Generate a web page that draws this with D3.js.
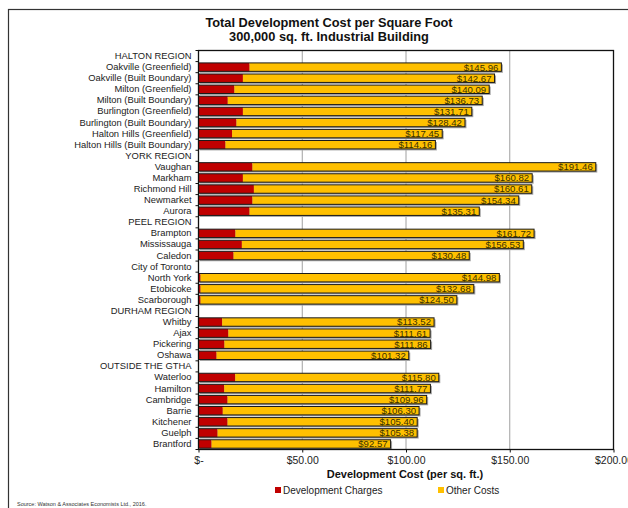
<!DOCTYPE html>
<html>
<head>
<meta charset="utf-8">
<script src="https://cdn.jsdelivr.net/npm/d3@7"></script>
<style>
  html, body { margin: 0; padding: 0; background: #fff; }
  svg { display: block; font-family: "Liberation Sans", Arial, sans-serif; }
</style>
</head>
<body>
<svg id="chart" width="628" height="508"></svg>
<script>
// Rows of the chart; region headers carry no values.
const categories = [
  "HALTON REGION",
  "Oakville (Greenfield)", "Oakville (Built Boundary)", "Milton (Greenfield)", "Milton (Built Boundary)",
  "Burlington (Greenfield)", "Burlington (Built Boundary)", "Halton Hills (Greenfield)", "Halton Hills (Built Boundary)",
  "YORK REGION",
  "Vaughan", "Markham", "Richmond Hill", "Newmarket", "Aurora",
  "PEEL REGION",
  "Brampton", "Mississauga", "Caledon",
  "City of Toronto",
  "North York", "Etobicoke", "Scarborough",
  "DURHAM REGION",
  "Whitby", "Ajax", "Pickering", "Oshawa",
  "OUTSIDE THE GTHA",
  "Waterloo", "Hamilton", "Cambridge", "Barrie", "Kitchener", "Guelph", "Brantford"
];

// Development charges per sq. ft. (estimated)
const devCharges = [
  null,
  24.6, 21.4, 17.3, 14.1, 21.4, 18.3, 16.2, 13.0,
  null,
  26.0, 21.4, 26.7, 26.0, 24.6,
  null,
  17.8, 20.9, 16.9,
  null,
  1.0, 1.0, 1.0,
  null,
  11.4, 14.4, 12.5, 8.7,
  null,
  17.7, 12.4, 14.0, 11.7, 14.0, 9.2, 6.3
];

// Total development cost per sq. ft. (labelled values)
const totals = [
  null,
  145.96, 142.67, 140.09, 136.73, 131.71, 128.42, 117.45, 114.16,
  null,
  191.46, 160.82, 160.61, 154.34, 135.31,
  null,
  161.72, 156.53, 130.48,
  null,
  144.98, 132.68, 124.50,
  null,
  113.52, 111.61, 111.86, 101.32,
  null,
  115.80, 111.77, 109.96, 106.30, 105.40, 105.38, 92.57
];

const xTicks = [0, 50, 100, 150, 200];
const seriesNames = ["Development Charges", "Other Costs"];
const seriesColors = ["#C00000", "#FFC000"];

const rows = categories.map((c, i) => ({
  name: c,
  dc: devCharges[i],
  total: totals[i],
  other: totals[i] == null ? null : totals[i] - devCharges[i]
}));

const svg = d3.select("#chart");
const margin = { left: 198.5, right: 613.5, top: 50.5, bottom: 449.5 };

// Outer frame
svg.append("rect")
  .attr("x", 8.5).attr("y", 9.5)
  .attr("width", 660).attr("height", 520)
  .attr("fill", "none").attr("stroke", "#333").attr("stroke-width", 1.2);

// Title
const title = svg.append("text")
  .attr("text-anchor", "middle")
  .attr("font-weight", "bold")
  .attr("font-size", 12.8)
  .attr("fill", "#111");
title.append("tspan").attr("x", 329).attr("y", 26.5).text("Total Development Cost per Square Foot");
title.append("tspan").attr("x", 329).attr("y", 40.5).text("300,000 sq. ft. Industrial Building");

const x = d3.scaleLinear().domain([0, 200]).range([margin.left, margin.right]);
const y = d3.scaleBand().domain(d3.range(categories.length))
  .range([margin.top, margin.bottom]).paddingInner(0.24).paddingOuter(0.12);

// Vertical gridlines
svg.append("g").selectAll("line")
  .data(xTicks.filter(t => t > 0 && t < 200))
  .join("line")
  .attr("x1", d => x(d)).attr("x2", d => x(d))
  .attr("y1", margin.top).attr("y2", margin.bottom)
  .attr("stroke", "#a0a0a0").attr("stroke-width", 1);

const bars = rows.map((r, i) => ({ ...r, i })).filter(r => r.total != null);

// Bar shadows
svg.append("g").selectAll("rect")
  .data(bars)
  .join("rect")
  .attr("x", x(0) + 1.5)
  .attr("y", d => y(d.i) + 1.5)
  .attr("width", d => x(d.total) - x(0))
  .attr("height", y.bandwidth())
  .attr("fill", "#a5a5a5");

// Development charge segments
svg.append("g").selectAll("rect")
  .data(bars)
  .join("rect")
  .attr("x", x(0))
  .attr("y", d => y(d.i))
  .attr("width", d => x(d.dc) - x(0))
  .attr("height", y.bandwidth())
  .attr("fill", seriesColors[0]);

// Other cost segments
svg.append("g").selectAll("rect")
  .data(bars)
  .join("rect")
  .attr("x", d => x(d.dc))
  .attr("y", d => y(d.i))
  .attr("width", d => x(d.dc + d.other) - x(d.dc))
  .attr("height", y.bandwidth())
  .attr("fill", seriesColors[1]);

// Bar outlines
svg.append("g").selectAll("rect")
  .data(bars)
  .join("rect")
  .attr("x", x(0))
  .attr("y", d => y(d.i))
  .attr("width", d => x(d.total) - x(0))
  .attr("height", y.bandwidth())
  .attr("fill", "none")
  .attr("stroke", "#1a1a1a").attr("stroke-width", 1);

// Total value labels
svg.append("g").selectAll("text")
  .data(bars)
  .join("text")
  .attr("x", d => x(d.total) - 3)
  .attr("y", d => y(d.i) + y.bandwidth() / 2)
  .attr("dy", "0.36em")
  .attr("text-anchor", "end")
  .attr("font-size", 9.6)
  .attr("fill", "#3a3000")
  .text(d => "$" + d3.format(".2f")(d.total));

// Plot border
svg.append("rect")
  .attr("x", margin.left).attr("y", margin.top)
  .attr("width", margin.right - margin.left)
  .attr("height", margin.bottom - margin.top)
  .attr("fill", "none").attr("stroke", "#111").attr("stroke-width", 1.3);

// Category axis
const yAxis = d3.axisLeft(d3.scaleBand().domain(d3.range(categories.length)).range([margin.top, margin.bottom]))
  .tickSize(0).tickFormat(i => categories[i]);
const gy = svg.append("g").attr("transform", `translate(${margin.left},0)`).call(yAxis);
gy.select(".domain").remove();
gy.selectAll("text")
  .attr("x", -7)
  .attr("font-size", 9.4)
  .attr("font-family", "Liberation Sans, Arial, sans-serif")
  .attr("fill", "#222");

// Row separator ticks on the category axis
const step = (margin.bottom - margin.top) / categories.length;
svg.append("g").selectAll("line")
  .data(d3.range(categories.length + 1))
  .join("line")
  .attr("x1", margin.left - 3).attr("x2", margin.left)
  .attr("y1", d => margin.top + d * step).attr("y2", d => margin.top + d * step)
  .attr("stroke", "#111");

// Value axis
const xAxis = d3.axisBottom(x).tickValues(xTicks).tickSize(3).tickPadding(4)
  .tickFormat(d => d === 0 ? "$-" : "$" + d3.format(".2f")(d));
const gx = svg.append("g").attr("transform", `translate(0,${margin.bottom})`).call(xAxis);
gx.select(".domain").remove();
gx.selectAll("line").attr("stroke", "#111");
gx.selectAll("text")
  .attr("font-size", 10.5)
  .attr("font-family", "Liberation Sans, Arial, sans-serif")
  .attr("fill", "#222");

svg.append("text")
  .attr("x", 405).attr("y", 478)
  .attr("text-anchor", "middle")
  .attr("font-weight", "bold")
  .attr("font-size", 11)
  .attr("fill", "#111")
  .text("Development Cost (per sq. ft.)");

// Legend
const legendX = [275, 438];
const legend = svg.append("g").selectAll("g")
  .data(seriesNames)
  .join("g")
  .attr("transform", (d, i) => `translate(${legendX[i]},487)`);
legend.append("rect").attr("width", 6).attr("height", 6)
  .attr("fill", (d, i) => seriesColors[i]);
legend.append("text").attr("x", 8).attr("y", 3).attr("dy", "0.36em")
  .attr("font-size", 10).attr("fill", "#222").text(d => d);

// Source note
svg.append("text")
  .attr("x", 17).attr("y", 506)
  .attr("font-size", 5.5).attr("fill", "#333")
  .text("Source: Watson & Associates Economists Ltd., 2016.");
</script>
</body>
</html>
